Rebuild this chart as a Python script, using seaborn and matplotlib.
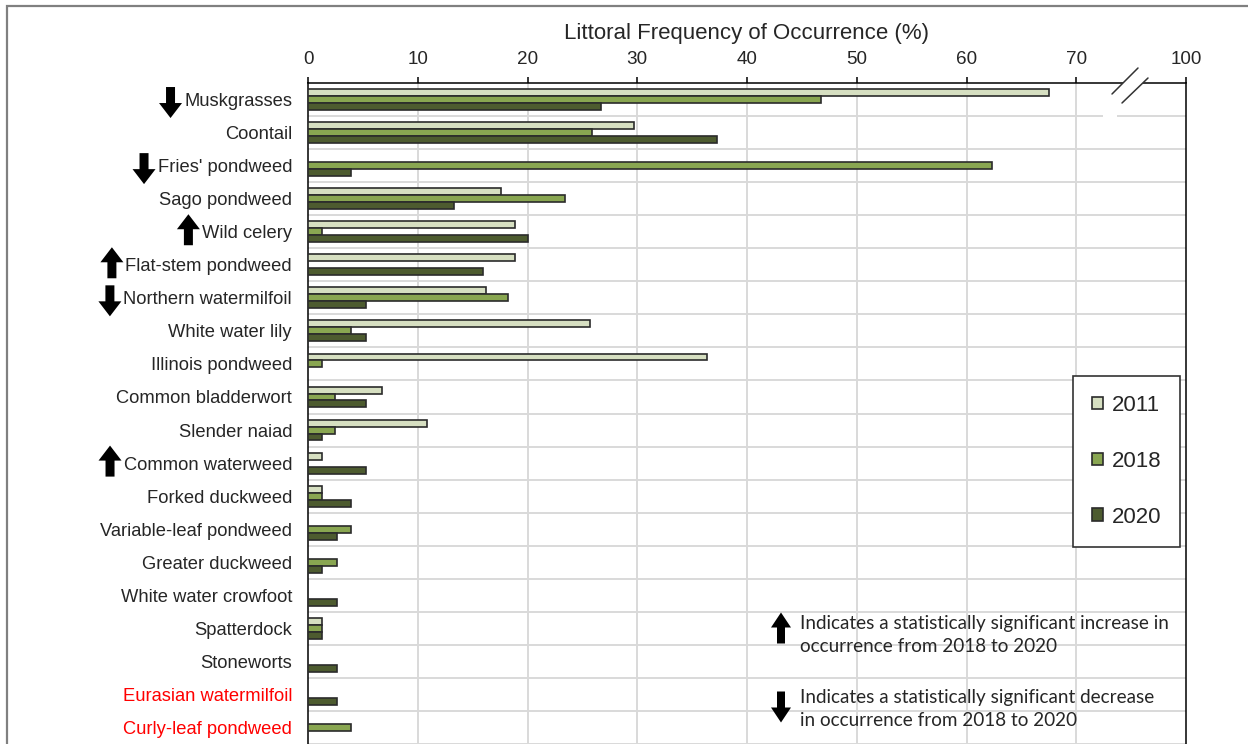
import numpy as np
import pandas as pd
import matplotlib
matplotlib.use("Agg")
import matplotlib.pyplot as plt
import seaborn as sns
from matplotlib.patches import Polygon, Rectangle
from matplotlib.lines import Line2D

# ── Dados ───────────────────────────────────────────────────────────────────
nan = np.nan

species = [
    "Muskgrasses", "Coontail", "Fries' pondweed", "Sago pondweed", "Wild celery",
    "Flat-stem pondweed", "Northern watermilfoil", "White water lily",
    "Illinois pondweed", "Common bladderwort", "Slender naiad", "Common waterweed",
    "Forked duckweed", "Variable-leaf pondweed", "Greater duckweed",
    "White water crowfoot", "Spatterdock", "Stoneworts", "Eurasian watermilfoil",
    "Curly-leaf pondweed",
]

v2011 = [67.5, 29.7, nan, 17.6, 18.9, 18.9, 16.2, 25.7, 36.4, 6.7,
         10.8, 1.3, 1.3, nan, nan, nan, 1.3, nan, nan, nan]
v2018 = [46.7, 25.9, 62.3, 23.4, 1.3, nan, 18.2, 3.9, 1.3, 2.5,
         2.5, nan, 1.3, 3.9, 2.6, nan, 1.3, nan, nan, 3.9]
v2020 = [26.7, 37.3, 3.9, 13.3, 20.0, 15.9, 5.3, 5.3, nan, 5.3,
         1.3, 5.3, 3.9, 2.6, 1.3, 2.6, 1.3, 2.6, 2.6, nan]

years = ["2011", "2018", "2020"]

x_ticks = [0, 10, 20, 30, 40, 50, 60, 70, 80]
x_tick_labels = ["0", "10", "20", "30", "40", "50", "60", "70", "100"]

# tendência 2018 -> 2020 (seta ao lado do nome)
trend = {
    "Muskgrasses": "down",
    "Fries' pondweed": "down",
    "Wild celery": "up",
    "Flat-stem pondweed": "up",
    "Northern watermilfoil": "down",
    "Common waterweed": "up",
}
invasive = ["Eurasian watermilfoil", "Curly-leaf pondweed"]

PALETTE = {"2011": "#D8E4BC", "2018": "#8DB443", "2020": "#4F6228"}
W, H = 1248, 744

# ── Figura ──────────────────────────────────────────────────────────────────
sns.set_style("white")
plt.rcParams["font.family"] = ["Liberation Sans", "DejaVu Sans"]

df = pd.DataFrame({"species": species, "2011": v2011, "2018": v2018, "2020": v2020})
long = df.melt(id_vars="species", var_name="year", value_name="freq").dropna()

fig = plt.figure(figsize=(W / 100, H / 100), dpi=100)
ax = fig.add_axes([308 / W, -4 / H, (1186 - 308) / W, (744 - 83 + 4) / H])

sns.barplot(
    data=long, x="freq", y="species", hue="year", order=species, hue_order=years,
    palette=PALETTE, orient="h", width=0.63, edgecolor="#2b2b2b", linewidth=1.2,
    ax=ax, zorder=3,
)

ax.set_xlim(0, 80)
ax.set_ylim(len(species) - 0.5 + 0.12, -0.5)
ax.xaxis.tick_top()
ax.set_xticks(x_ticks)
ax.set_xticklabels(x_tick_labels)
ax.tick_params(axis="x", which="major", direction="out", length=4, width=1.1,
               color="black", pad=7, labelsize=13.6, labelcolor="#262626")
ax.set_xlabel("")
ax.set_ylabel("")

ax.set_yticks(range(len(species)))
ax.set_yticklabels(species)
ax.tick_params(axis="y", which="major", length=0, pad=11.5, labelsize=13.2,
               labelcolor="#262626")
ax.set_yticks(np.arange(-0.5, len(species), 1), minor=True)
ax.tick_params(axis="y", which="minor", direction="out", length=4.5, width=1.1,
               color="black")
for lbl in ax.get_yticklabels():
    if lbl.get_text() in invasive:
        lbl.set_color("#FF0000")

# grade
for x in x_ticks[1:-1]:
    ax.axvline(x, color="#D9D9D9", lw=1.4, zorder=0)
for y in np.arange(0.5, len(species), 1):
    ax.axhline(y, color="#D9D9D9", lw=1.4, zorder=0)

for side in ["top", "left", "right"]:
    ax.spines[side].set_visible(True)
    ax.spines[side].set_color("black")
    ax.spines[side].set_linewidth(1.1)
ax.spines["bottom"].set_visible(False)

# legenda
handles, labels = ax.get_legend_handles_labels()
leg = ax.legend(
    handles, labels, loc="upper left", bbox_to_anchor=(1073 / W, 1 - 376 / H),
    bbox_transform=fig.transFigure, borderaxespad=0, fontsize=16,
    handlelength=0.5, handleheight=0.5, handletextpad=0.4, labelspacing=1.57,
    borderpad=0.85, frameon=True, fancybox=False, framealpha=1,
    edgecolor="#333333",
)
leg.get_frame().set_linewidth(1.2)
for t in leg.get_texts():
    t.set_color("#262626")

# título
fig.text(747 / W, 1 - 33 / H, "Littoral Frequency of Occurrence (%)",
         ha="center", va="center", fontsize=16, color="#262626")


# ── Elementos decorativos ──────────────────────────────────────────────────
def fx(px):
    return px / W


def fy(py):
    return 1 - py / H


def arrow(x_right, y_center, up, w=23, h=31, shaft=9, head=15):
    """Seta em bloco, coordenadas em pixels a partir do topo-esquerdo."""
    cx = x_right - w / 2
    top, bot = y_center - h / 2, y_center + h / 2
    if up:
        pts = [(cx, top), (cx + w / 2, top + head), (cx + shaft / 2, top + head),
               (cx + shaft / 2, bot), (cx - shaft / 2, bot),
               (cx - shaft / 2, top + head), (cx - w / 2, top + head)]
    else:
        pts = [(cx, bot), (cx + w / 2, bot - head), (cx + shaft / 2, bot - head),
               (cx + shaft / 2, top), (cx - shaft / 2, top),
               (cx - shaft / 2, bot - head), (cx - w / 2, bot - head)]
    fig.add_artist(Polygon([(fx(x), fy(y)) for x, y in pts], closed=True,
                           facecolor="black", edgecolor="none",
                           transform=fig.transFigure))


fig.canvas.draw()
renderer = fig.canvas.get_renderer()
for lbl in ax.get_yticklabels():
    name = lbl.get_text()
    if name in trend:
        bb = lbl.get_window_extent(renderer)
        row_px = H - (bb.y0 + bb.y1) / 2
        up = trend[name] == "up"
        arrow(bb.x0 - 2, row_px + (-4 if up else 1), up)

# nota de significância
note_kw = dict(fontsize=13.6, color="#262626", family=["Lato", "DejaVu Sans"],
               ha="left", va="center", linespacing=1.42)
arrow(791, 628, True, w=20, h=31, shaft=8)
fig.text(fx(800), fy(635), "Indicates a statistically significant increase in\n"
         "occurrence from 2018 to 2020", **note_kw)
arrow(791, 707, False, w=20, h=31, shaft=8)
fig.text(fx(800), fy(709), "Indicates a statistically significant decrease\n"
         "in occurrence from 2018 to 2020", **note_kw)

# quebra do eixo
fig.add_artist(Polygon([(fx(1112), fy(94)), (fx(1138), fy(68)), (fx(1148), fy(78)),
                        (fx(1122), fy(103))], closed=True, facecolor="white",
                       edgecolor="none", transform=fig.transFigure, zorder=5))
fig.add_artist(Rectangle((fx(1103), fy(119)), fx(1117) - fx(1103), 4 / H,
                         facecolor="white", edgecolor="none",
                         transform=fig.transFigure, zorder=5))
for x0, y0, x1, y1 in [(1112, 94, 1138, 68), (1122, 103, 1148, 78)]:
    fig.add_artist(Line2D([fx(x0), fx(x1)], [fy(y0), fy(y1)], color="#333333",
                          lw=1.1, transform=fig.transFigure, zorder=6))

# moldura externa
fig.add_artist(Rectangle((fx(7), -0.05), 1.2, fy(6) + 0.05, fill=False,
                         edgecolor="#808080", lw=1.6, transform=fig.transFigure))

fig.savefig("out.png", dpi=100)
